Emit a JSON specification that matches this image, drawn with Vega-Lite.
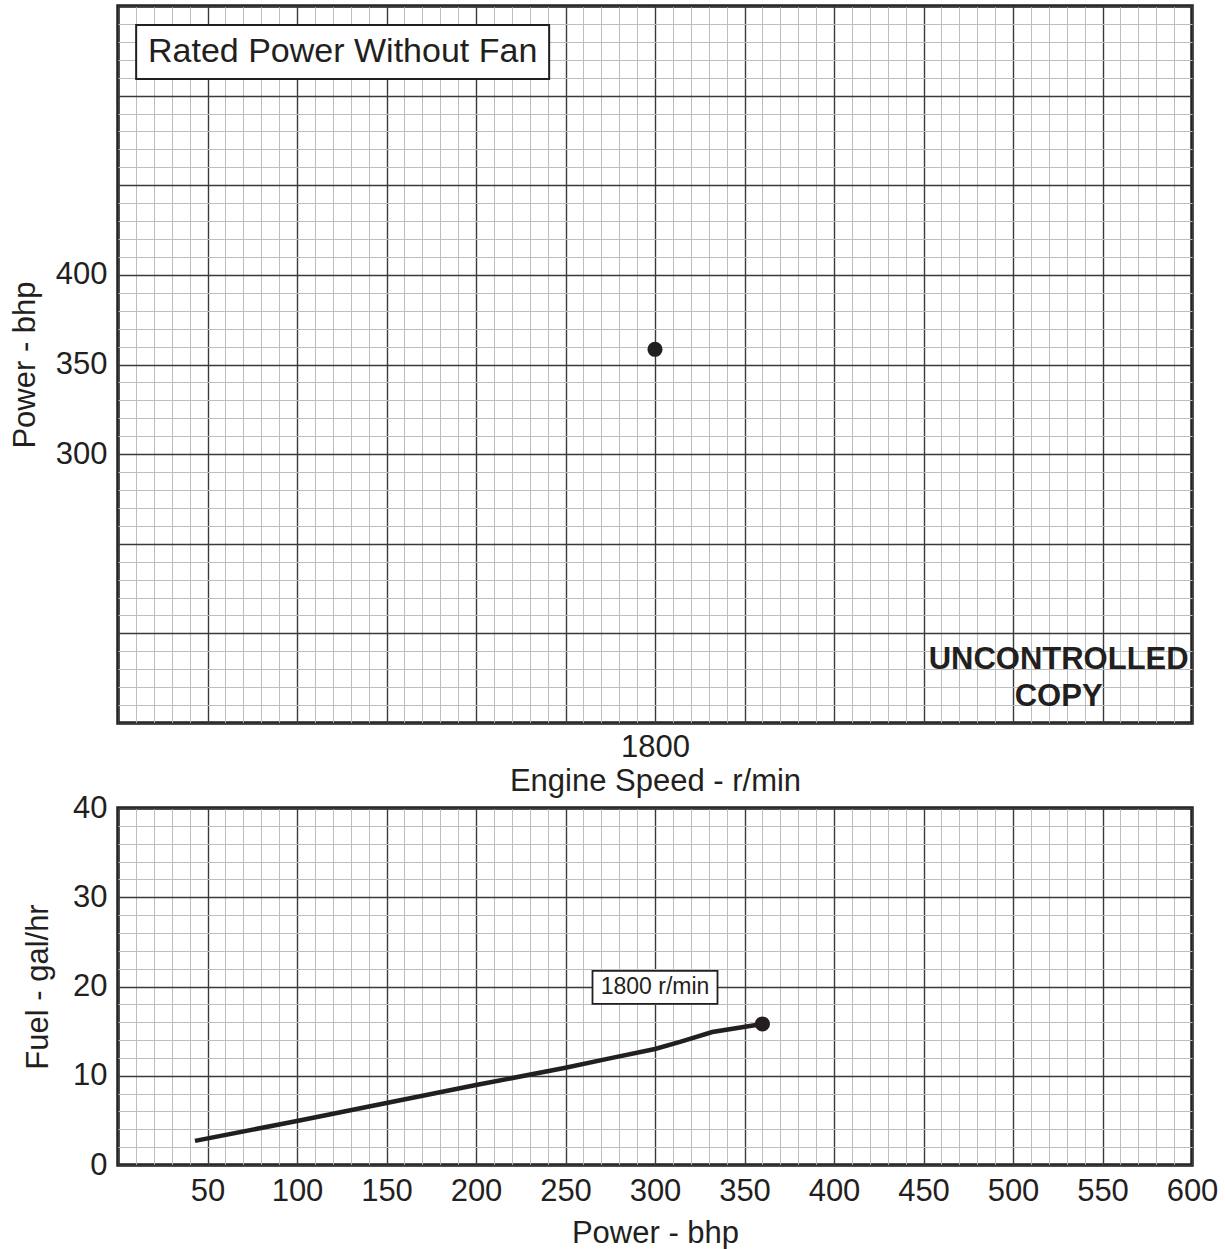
{
  "$schema": "https://vega.github.io/schema/vega-lite/v6.json",
  "padding": {"left": 7, "top": 4, "right": 0, "bottom": 0},
  "spacing": 85,
  "bounds": "flush",
  "config": {
    "font": "Liberation Sans",
    "view": {"stroke": "#231f20", "strokeWidth": 3.5},
    "axis": {
      "ticks": false,
      "domain": false,
      "labelFontSize": 31,
      "titleFontSize": 31,
      "titleFontWeight": "normal",
      "labelColor": "#231f20",
      "titleColor": "#231f20",
      "labelPadding": 11,
      "labelOverlap": false,
      "labelFlush": false,
      "labelBound": false
    }
  },
  "vconcat": [
    {
      "width": 1074,
      "height": 717,
      "encoding": {
        "x": {
          "field": "speed", "type": "quantitative",
          "scale": {"domain": [1200, 2400], "nice": false, "zero": false},
          "axis": {
            "title": "Engine Speed - r/min",
            "titlePadding": 4,
            "labelPadding": 9,
            "values": [1200,1220,1240,1260,1280,1300,1320,1340,1360,1380,1400,1420,1440,1460,1480,1500,1520,1540,1560,1580,1600,1620,1640,1660,1680,1700,1720,1740,1760,1780,1800,1820,1840,1860,1880,1900,1920,1940,1960,1980,2000,2020,2040,2060,2080,2100,2120,2140,2160,2180,2200,2220,2240,2260,2280,2300,2320,2340,2360,2380,2400],
            "labelExpr": "datum.value == 1800 ? '1800' : ''",
            "labelFontSize": {"condition": {"test": "datum.value == 1800", "value": 31}, "value": 0},
            "gridColor": {"condition": {"test": "datum.value % 100 === 0", "value": "#3a3a3a"}, "value": "#bdbdbd"},
            "gridWidth": {"condition": {"test": "datum.value % 100 === 0", "value": 1.4}, "value": 1}
          }
        },
        "y": {
          "field": "power", "type": "quantitative",
          "scale": {"domain": [150, 550], "nice": false, "zero": false},
          "axis": {
            "title": "Power - bhp",
            "titlePadding": 14,
            "values": [150,160,170,180,190,200,210,220,230,240,250,260,270,280,290,300,310,320,330,340,350,360,370,380,390,400,410,420,430,440,450,460,470,480,490,500,510,520,530,540,550],
            "labelExpr": "(datum.value == 300 || datum.value == 350 || datum.value == 400) ? datum.value + '' : ''",
            "labelFontSize": {"condition": {"test": "datum.value == 300 || datum.value == 350 || datum.value == 400", "value": 31}, "value": 0},
            "gridColor": {"condition": {"test": "datum.value % 50 === 0", "value": "#3a3a3a"}, "value": "#bdbdbd"},
            "gridWidth": {"condition": {"test": "datum.value % 50 === 0", "value": 1.4}, "value": 1}
          }
        }
      },
      "layer": [
        {
          "data": {"values": [{"speed": 1800, "power": 358.5}]},
          "mark": {"type": "point", "filled": true, "color": "#231f20", "opacity": 1, "size": 230}
        },
        {
          "data": {"values": [{"speed": 1451, "power": 524.3, "label": "Rated Power Without Fan"}]},
          "mark": {"type": "point", "shape": "M-1,-0.131L1,-0.131L1,0.131L-1,0.131Z", "filled": true, "fill": "white", "stroke": "#231f20", "strokeWidth": 2, "opacity": 1, "size": 170569}
        },
        {
          "data": {"values": [{"speed": 1451, "power": 524.3, "label": "Rated Power Without Fan"}]},
          "mark": {"type": "text", "fontSize": 34, "color": "#231f20", "align": "center", "baseline": "middle"},
          "encoding": {"text": {"field": "label"}}
        },
        {
          "data": {"values": [
            {"speed": 2251, "power": 185.1, "label": "UNCONTROLLED"},
            {"speed": 2251, "power": 164.5, "label": "COPY"}
          ]},
          "mark": {"type": "text", "fontSize": 31, "fontWeight": "bold", "color": "#231f20", "align": "center", "baseline": "middle"},
          "encoding": {"text": {"field": "label"}}
        }
      ]
    },
    {
      "width": 1074,
      "height": 357,
      "encoding": {
        "x": {
          "field": "bhp", "type": "quantitative",
          "scale": {"domain": [0, 600], "nice": false},
          "axis": {
            "title": "Power - bhp",
            "titlePadding": 12,
            "values": [0,10,20,30,40,50,60,70,80,90,100,110,120,130,140,150,160,170,180,190,200,210,220,230,240,250,260,270,280,290,300,310,320,330,340,350,360,370,380,390,400,410,420,430,440,450,460,470,480,490,500,510,520,530,540,550,560,570,580,590,600],
            "labelExpr": "(datum.value % 50 === 0 && datum.value > 0) ? datum.value + '' : ''",
            "labelFontSize": {"condition": {"test": "datum.value % 50 === 0 && datum.value > 0", "value": 31}, "value": 0},
            "gridColor": {"condition": {"test": "datum.value % 50 === 0", "value": "#3a3a3a"}, "value": "#bdbdbd"},
            "gridWidth": {"condition": {"test": "datum.value % 50 === 0", "value": 1.4}, "value": 1}
          }
        },
        "y": {
          "field": "fuel", "type": "quantitative",
          "scale": {"domain": [0, 40], "nice": false},
          "axis": {
            "title": "Fuel - gal/hr",
            "titlePadding": 18,
            "values": [0,2,4,6,8,10,12,14,16,18,20,22,24,26,28,30,32,34,36,38,40],
            "labelExpr": "datum.value % 10 === 0 ? datum.value + '' : ''",
            "labelFontSize": {"condition": {"test": "datum.value % 10 === 0", "value": 31}, "value": 0},
            "gridColor": {"condition": {"test": "datum.value % 10 === 0", "value": "#3a3a3a"}, "value": "#bdbdbd"},
            "gridWidth": {"condition": {"test": "datum.value % 10 === 0", "value": 1.4}, "value": 1}
          }
        }
      },
      "layer": [
        {
          "data": {"values": [
            {"bhp": 43, "fuel": 2.7},
            {"bhp": 100, "fuel": 4.93},
            {"bhp": 150, "fuel": 6.95},
            {"bhp": 200, "fuel": 8.96},
            {"bhp": 250, "fuel": 10.9},
            {"bhp": 276, "fuel": 12.0},
            {"bhp": 300, "fuel": 13.0},
            {"bhp": 314, "fuel": 13.8},
            {"bhp": 332, "fuel": 14.9},
            {"bhp": 360, "fuel": 15.8}
          ]},
          "mark": {"type": "line", "color": "#231f20", "strokeWidth": 4.5}
        },
        {
          "data": {"values": [{"bhp": 360, "fuel": 15.8}]},
          "mark": {"type": "point", "filled": true, "color": "#231f20", "opacity": 1, "size": 230}
        },
        {
          "data": {"values": [{"bhp": 300, "fuel": 19.9, "label": "1800 r/min"}]},
          "mark": {"type": "point", "shape": "M-1,-0.264L1,-0.264L1,0.264L-1,0.264Z", "filled": true, "fill": "white", "stroke": "#231f20", "strokeWidth": 1.8, "opacity": 1, "size": 15625}
        },
        {
          "data": {"values": [{"bhp": 300, "fuel": 19.9, "label": "1800 r/min"}]},
          "mark": {"type": "text", "fontSize": 23, "color": "#231f20", "align": "center", "baseline": "middle"},
          "encoding": {"text": {"field": "label"}}
        }
      ]
    }
  ]
}
